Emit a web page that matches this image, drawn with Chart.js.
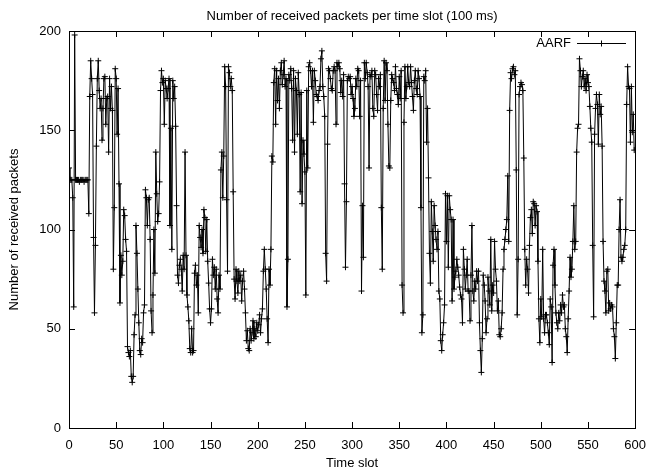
<!DOCTYPE html>
<html>
<head>
<meta charset="utf-8">
<script src="https://cdn.jsdelivr.net/npm/chart.js@4.4.1/dist/chart.umd.min.js"></script>
<style>
  html, body { margin: 0; padding: 0; background: #fff; }
  #wrap { width: 656px; height: 472px; }
</style>
</head>
<body>
<div id="wrap"><canvas id="chart" width="656" height="472"></canvas></div>
<script>
/* ── 텍스트 ─────────────────────────────── */
const chartTitle = 'Number of received packets per time slot (100 ms)';
const xTitle     = 'Time slot';
const yTitle     = 'Number of received packets';
const seriesName = 'AARF';

/* ── 축 눈금 ────────────────────────────── */
const xTicks = [0, 50, 100, 150, 200, 250, 300, 350, 400, 450, 500, 550, 600];
const yTicks = [0, 50, 100, 150, 200];

/* ── 슬롯별 수신 패킷 수 (slot 0..599) ─────── */
const packets = [
  131, 125, 125, 125, 116,  61, 198, 125, 125, 125,
  125, 124, 125, 125, 125, 125, 124, 125, 125, 125,
  125, 108, 167, 185, 176, 168,  96,  58,  92, 142,
  176, 185, 170, 161, 166, 145, 161, 176, 177, 153,
  166, 167, 139, 176, 161, 172, 160,  80, 111, 181,
  176, 148, 171, 123,  63,  87,  77,  84, 110, 107,
   95,  89,  41,  38,  36,  39,  26,  23,  26,  47,
   57, 102,  88,  70,  53,  39,  37,  45,  43,  58,
   62, 120, 116, 102, 115, 116,  95,  59,  48,  67,
  100,  78, 139, 118, 104, 108, 124, 170, 180, 174,
  176, 153, 175, 171, 166, 171, 176, 102, 151,  90,
  175, 166, 172, 152, 112,  77,  73,  82,  85,  80,
   69,  87,  80, 139,  87,  67,  61,  54,  40,  38,
   50,  38,  39,  78,  82,  72,  77,  58, 102,  96,
   91, 100,  88, 110, 106,  89, 105,  84,  73,  60,
   53,  60,  85,  77,  81,  70,  80,  65,  58,  77,
   70, 130, 139, 116, 137, 182, 172, 115,  79, 182,
  179, 172, 176, 170, 119,  75,  65,  80,  74,  68,
   79,  74,  77,  64,  74,  79,  70,  58,  44,  49,
   40,  39,  50,  44,  48,  54,  45,  50,  46,  53,
   49,  52,  57,  48,  55,  60,  79,  90,  80,  70,
   55,  43,  80,  72,  90, 137, 134, 174, 181, 153,
  180, 165, 176, 161, 180, 184, 173, 178, 185, 172,
  176,  61,  85, 178, 175, 181, 171, 145, 180, 139,
  176, 170, 148, 179, 168, 119, 169, 113, 145, 138,
  129,  67, 170, 131, 182, 184, 180, 172, 180, 154,
  180, 175, 168, 167, 165, 170, 172, 186, 190, 172,
  167, 157,  88,  74, 143, 181, 180, 176, 171, 170,
  180, 182, 180, 153, 184, 182, 184, 181, 169, 175,
  167, 178, 123,  81, 114, 175, 177, 176, 177, 168,
  172, 166, 157, 161, 176, 172, 181, 180, 157, 175,
   69, 112,  86, 184, 176, 184, 179, 172, 131, 178,
  177, 180, 161, 157, 180, 178, 168, 160, 176, 172,
  178, 111,  80, 161, 185, 165, 184, 180, 153, 132,
  131, 165, 178, 176, 174, 170, 182, 171, 168, 163,
  177, 166, 180,  72,  58, 154, 182, 166, 172, 182,
  174, 172, 182, 174, 167, 160, 175, 180, 171, 168,
  180, 176, 167, 111,  48,  57, 177, 175, 180, 144,
  161, 126,  88,  73, 114,  99,  84, 112, 102,  95,
   90,  99,  69,  65,  44,  39,  47,  53,  62, 118,
   94, 117,  81, 117, 110, 105,  64, 105,  70,  76,
   79,  85,  81,  77,  71,  67,  65,  53,  90,  80,
   70,  77,  85,  69,  69,  54,  77, 102,  69,  64,
   74,  70,  79,  74,  79,  53,  39,  28,  45,  77,
   72,  64,  48,  55,  76,  69,  62,  95,  59,  72,
   68,  94,  80,  74,  59,  64,  47,  46,  50,  58,
   80,  90,  95, 100, 105, 127,  94, 160, 179, 176,
  181, 182, 178, 180, 130,  57,  85, 168, 172, 174,
  173, 170, 136,  90,  72,  85,  80,  68,  92, 106,
  110,  98, 114, 113, 102, 112, 109,  84,  55,  43,
   65,  56,  90,  55,  48,  57,  57,  53,  48,  42,
   65,  61,  33,  82,  90,  72,  58,  53,  50,  58,
   54,  62,  58,  67,  61,  62,  50,  46,  38,  55,
   69,  86,  76,  80,  94, 112,  90,  94, 139, 151,
  153, 186, 180, 172, 177, 180, 172, 176, 170, 178,
  174, 172, 162, 151, 144,  92,  56, 148, 161, 168,
  163, 143, 168, 158, 162, 142,  94,  74,  69,  58,
   79,  80,  59,  63,  60,  62,  61,  50,  46,  35,
   53,  72,  72, 100, 115,  86,  84,  86,  90,  92,
  100, 163, 182, 172, 171, 144, 172, 149, 158, 140,
];

const FONT = '"Liberation Sans", Arial, Helvetica, sans-serif';
const INK  = '#000';

/* ── gnuplot 스타일 프레임 + 안쪽 눈금 + 제목 + 범례 ── */
const gnuplotFrame = {
  id: 'gnuplotFrame',
  afterDraw(chart) {
    const { ctx, chartArea: a, scales } = chart;
    const TL = 6;
    ctx.save();
    ctx.strokeStyle = INK;
    ctx.lineWidth = 1;

    ctx.beginPath();
    xTicks.forEach(v => {
      const px = Math.round(scales.x.getPixelForValue(v)) + 0.5;
      ctx.moveTo(px, a.bottom); ctx.lineTo(px, a.bottom - TL);
      ctx.moveTo(px, a.top);    ctx.lineTo(px, a.top + TL);
    });
    yTicks.forEach(v => {
      const py = Math.round(scales.y.getPixelForValue(v)) + 0.5;
      ctx.moveTo(a.left, py);  ctx.lineTo(a.left + TL, py);
      ctx.moveTo(a.right, py); ctx.lineTo(a.right - TL, py);
    });
    ctx.stroke();

    ctx.strokeRect(Math.round(a.left) + 0.5, Math.round(a.top) + 0.5,
                   Math.round(a.right - a.left), Math.round(a.bottom - a.top));

    // 제목
    ctx.fillStyle = INK;
    ctx.font = `13px ${FONT}`;
    ctx.textAlign = 'center';
    ctx.textBaseline = 'middle';
    ctx.fillText(chartTitle, (a.left + a.right) / 2, 16);

    // 범례 (텍스트 왼쪽, 선+마커 오른쪽)
    const ly = 43.5;
    ctx.textAlign = 'right';
    ctx.fillText(seriesName, 571, ly);
    ctx.beginPath();
    ctx.moveTo(577, ly); ctx.lineTo(626, ly);
    ctx.moveTo(601.5, ly - 3); ctx.lineTo(601.5, ly + 3);
    ctx.stroke();
    ctx.restore();
  }
};

new Chart(document.getElementById('chart'), {
  type: 'line',
  data: {
    datasets: [{
      label: seriesName,
      data: packets.map((v, i) => ({ x: i, y: v })),
      borderColor: INK,
      backgroundColor: INK,
      borderWidth: 1,
      pointStyle: 'cross',
      pointRadius: 3,
      pointBorderWidth: 1,
      pointBorderColor: INK,
      tension: 0,
      fill: false,
    }],
  },
  options: {
    responsive: false,
    animation: false,
    devicePixelRatio: 1,
    layout: { padding: { top: 31, right: 14, bottom: 0, left: 0 } },
    plugins: {
      legend:  { display: false },
      tooltip: { enabled: false },
    },
    scales: {
      x: {
        type: 'linear',
        min: 0, max: 600,
        afterBuildTicks: s => { s.ticks = xTicks.map(v => ({ value: v })); },
        afterFit: s => { s.height = 44; },
        grid:   { display: false, drawTicks: false },
        border: { display: false },
        ticks:  { color: INK, font: { family: FONT, size: 13 }, padding: 10, maxRotation: 0 },
        title:  { display: true, text: xTitle, color: INK, font: { family: FONT, size: 13 }, padding: 1 },
      },
      y: {
        min: 0, max: 200,
        afterBuildTicks: s => { s.ticks = yTicks.map(v => ({ value: v })); },
        afterFit: s => { s.width = 69; },
        grid:   { display: false, drawTicks: false },
        border: { display: false },
        ticks:  { color: INK, font: { family: FONT, size: 13 }, padding: 8 },
        title:  { display: true, text: yTitle, color: INK, font: { family: FONT, size: 13 }, padding: { top: 7, bottom: 0 } },
      },
    },
  },
  plugins: [gnuplotFrame],
});
</script>
</body>
</html>
